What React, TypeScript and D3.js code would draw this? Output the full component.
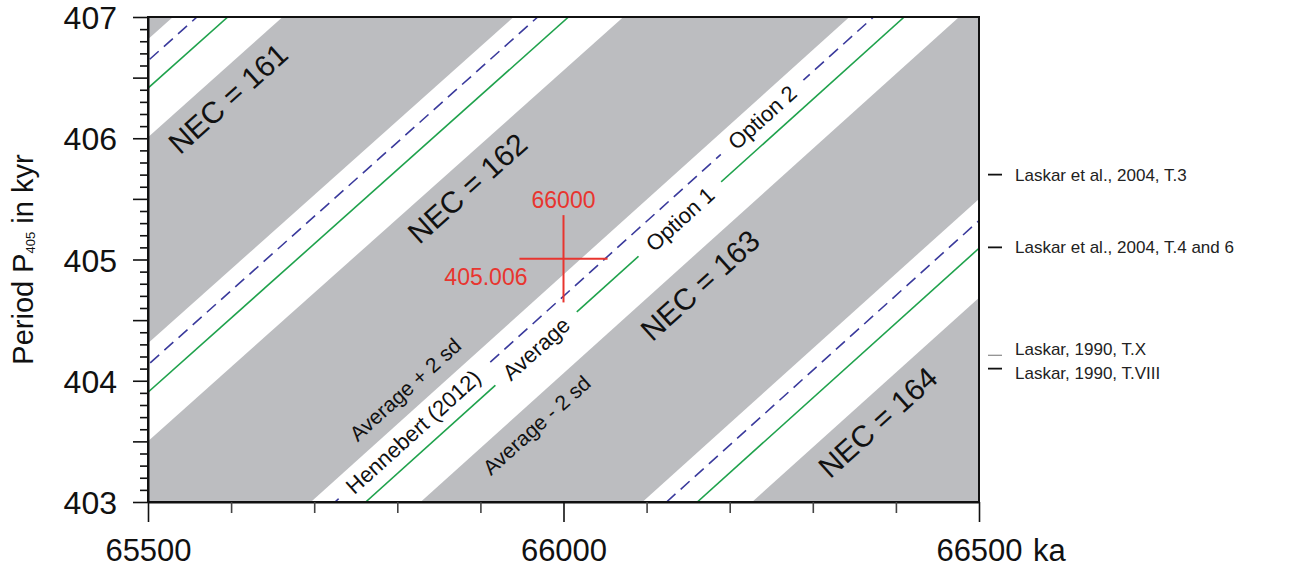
import React, { useEffect, useRef } from 'react';
import * as d3 from 'd3';

// number of eccentricity cycles written in the grey zones
const necValues = [161, 162, 163, 164];
const necLabelAge = [65596, 65884, 66164, 66378];
const necLabelPeriod = [406.33, 405.59, 404.79, 403.66];

// age (ka) where each line crosses P = 403 kyr and P = 407 kyr, one entry per white band
const greenAt403 = [64942, 65352, 65762, 66161];
const greenAt407 = [65596, 66006, 66410, 66809];
const blueAt403 = [64905, 65315, 65725, 66124];
const blueAt407 = [65559, 65969, 66373, 66772];
const upperAt403 = [64876, 65286, 65696, 66095];
const upperAt407 = [65530, 65940, 66344, 66743];
const lowerAt403 = [65008, 65418, 65828, 66227];
const lowerAt407 = [65662, 66072, 66476, 66875];

// labels written along the lines of the middle band
const lineLabels = ['Hennebert (2012)', 'Average', 'Option 1', 'Option 2'];
const lineLabelLine = ['blue', 'green', 'green', 'blue'];
const lineLabelAge = [65819, 65967, 66140, 66239];

// labels next to the band edges
const edgeLabels = ['Average + 2 sd', 'Average - 2 sd'];
const edgeLabelLine = ['upper', 'lower'];
const edgeLabelAge = [65826, 65951];

// reference periods marked on the right
const laskarPeriods = [405.7, 405.1, 404.21, 404.1];
const laskarLabels = [
  'Laskar et al., 2004, T.3',
  'Laskar et al., 2004, T.4 and 6',
  'Laskar, 1990, T.X',
  'Laskar, 1990, T.VIII',
];

const xMajorTicks = [65500, 66000, 66500];
const crossAge = 66000;
const crossPeriod = 405.006;

const W = 1291;
const H = 568;
const FONT = '"Liberation Sans", Arial, Helvetica, sans-serif';

const App = () => {
  const svgRef = useRef<SVGSVGElement>(null);

  useEffect(() => {
    const svg = d3.select(svgRef.current);
    svg.selectAll('*').remove();

    const x = d3.scaleLinear().domain([65500, 66500]).range([148, 979]);
    const y = d3.scaleLinear().domain([403, 407]).range([502, 17]);
    const [x0, x1] = x.range();
    const [y1, y0] = y.range();

    const lines: Record<string, [number[], number[]]> = {
      green: [greenAt403, greenAt407],
      blue: [blueAt403, blueAt407],
      upper: [upperAt403, upperAt407],
      lower: [lowerAt403, lowerAt407],
    };
    const periodOn = (a403: number, a407: number, age: number) =>
      403 + (4 * (age - a403)) / (a407 - a403);
    const angleOf = (a403: number, a407: number) =>
      (Math.atan2(y(407) - y(403), x(a407) - x(a403)) * 180) / Math.PI;

    svg.append('defs').append('clipPath').attr('id', 'plot-clip')
      .append('rect')
      .attr('x', x0).attr('y', y0)
      .attr('width', x1 - x0).attr('height', y1 - y0);

    const plot = svg.append('g').attr('clip-path', 'url(#plot-clip)');

    // grey background
    plot.append('rect')
      .attr('x', x0).attr('y', y0)
      .attr('width', x1 - x0).attr('height', y1 - y0)
      .attr('fill', '#bcbdc0');

    const bands = d3.range(greenAt403.length);

    // white bands (average +/- 2 sd)
    plot.selectAll('.band')
      .data(bands)
      .join('path')
      .attr('class', 'band')
      .attr('fill', '#fff')
      .attr('d', (i) =>
        d3.line()([
          [x(upperAt403[i]), y(403)],
          [x(upperAt407[i]), y(407)],
          [x(lowerAt407[i]), y(407)],
          [x(lowerAt403[i]), y(403)],
        ]) + 'Z');

    // Hennebert (2012) dashed line
    plot.selectAll('.blue')
      .data(bands)
      .join('line')
      .attr('x1', (i) => x(blueAt403[i])).attr('y1', y(403))
      .attr('x2', (i) => x(blueAt407[i])).attr('y2', y(407))
      .attr('stroke', '#3a3a9c')
      .attr('stroke-width', 1.6)
      .attr('stroke-dasharray', '12,7');

    // average line
    plot.selectAll('.green')
      .data(bands)
      .join('line')
      .attr('x1', (i) => x(greenAt403[i])).attr('y1', y(403))
      .attr('x2', (i) => x(greenAt407[i])).attr('y2', y(407))
      .attr('stroke', '#1fa24c')
      .attr('stroke-width', 1.6);

    // labels sitting on the lines of the middle band (white gap behind them)
    const mid = 2;
    lineLabels.forEach((label, k) => {
      const [a403, a407] = lines[lineLabelLine[k]];
      const age = lineLabelAge[k];
      const p = periodOn(a403[mid], a407[mid], age);
      const g = plot.append('g')
        .attr('transform', `translate(${x(age)},${y(p)}) rotate(${angleOf(a403[mid], a407[mid])})`);
      const t = g.append('text')
        .attr('text-anchor', 'middle')
        .attr('dy', '0.36em')
        .style('font-family', FONT)
        .style('font-size', '22px')
        .attr('fill', '#111')
        .text(label);
      const len = (t.node() as SVGTextElement).getComputedTextLength();
      g.insert('rect', 'text')
        .attr('x', -len / 2 - 14).attr('y', -9)
        .attr('width', len + 28).attr('height', 18)
        .attr('fill', '#fff');
    });

    // labels beside the band edges
    edgeLabels.forEach((label, k) => {
      const [a403, a407] = lines[edgeLabelLine[k]];
      const age = edgeLabelAge[k];
      const p = periodOn(a403[mid], a407[mid], age);
      plot.append('text')
        .attr('transform', `translate(${x(age)},${y(p)}) rotate(${angleOf(a403[mid], a407[mid])})`)
        .attr('text-anchor', 'middle')
        .attr('y', edgeLabelLine[k] === 'upper' ? -13 : 28)
        .style('font-family', FONT)
        .style('font-size', '21px')
        .attr('fill', '#111')
        .text(label);
    });

    // NEC labels
    plot.selectAll('.nec')
      .data(necValues)
      .join('text')
      .attr('class', 'nec')
      .attr('transform', (_, i) =>
        `translate(${x(necLabelAge[i])},${y(necLabelPeriod[i])}) rotate(${angleOf(greenAt403[i], greenAt407[i])})`)
      .attr('text-anchor', 'middle')
      .attr('dy', '0.36em')
      .style('font-family', FONT)
      .style('font-size', '30px')
      .attr('fill', '#111')
      .text((d) => `NEC = ${d}`);

    // red cross: 66000 ka, 405.006 kyr
    const red = '#e8352f';
    const cross = svg.append('g');
    cross.append('line')
      .attr('x1', x(crossAge - 53)).attr('x2', x(crossAge + 53))
      .attr('y1', y(crossPeriod)).attr('y2', y(crossPeriod))
      .attr('stroke', red).attr('stroke-width', 2);
    cross.append('line')
      .attr('x1', x(crossAge)).attr('x2', x(crossAge))
      .attr('y1', y(crossPeriod + 0.36)).attr('y2', y(crossPeriod - 0.36))
      .attr('stroke', red).attr('stroke-width', 2);
    cross.append('text')
      .attr('x', x(crossAge)).attr('y', y(crossPeriod + 0.36) - 7)
      .attr('text-anchor', 'middle')
      .style('font-family', FONT).style('font-size', '23px')
      .attr('fill', red)
      .text(d3.format('d')(crossAge));
    cross.append('text')
      .attr('x', x(crossAge) - 36).attr('y', y(crossPeriod) + 26)
      .attr('text-anchor', 'end')
      .style('font-family', FONT).style('font-size', '23px')
      .attr('fill', red)
      .text(d3.format('.3f')(crossPeriod));

    // frame
    svg.append('rect')
      .attr('x', x0).attr('y', y0)
      .attr('width', x1 - x0).attr('height', y1 - y0)
      .attr('fill', 'none')
      .attr('stroke', '#111')
      .attr('stroke-width', 2);

    // y axis
    const yTicks = d3.range(4030, 4071).map((v) => v / 10);
    const isInt = (d: number) => Math.abs(d - Math.round(d)) < 1e-6;
    const isHalf = (d: number) => Math.abs(d * 2 - Math.round(d * 2)) < 1e-6;
    const yAxis = svg.append('g')
      .attr('transform', `translate(${x0},0)`)
      .call(d3.axisLeft(y).tickValues(yTicks).tickSizeOuter(0)
        .tickFormat((d) => (isInt(+d) ? d3.format('d')(+d) : '')));
    yAxis.select('.domain').attr('stroke', '#111').attr('stroke-width', 2);
    yAxis.selectAll<SVGLineElement, number>('.tick line')
      .attr('x2', (d) => (isHalf(d) ? -15 : -8))
      .attr('stroke', '#111')
      .attr('stroke-width', 1.6);
    yAxis.selectAll('.tick text')
      .attr('x', -31)
      .attr('dy', '0.36em')
      .style('font-family', FONT)
      .style('font-size', '32px')
      .attr('fill', '#111');

    // x axis
    const xTicks = d3.range(655, 666).map((v) => v * 100);
    const xAxis = svg.append('g')
      .attr('transform', `translate(0,${y1})`)
      .call(d3.axisBottom(x).tickValues(xTicks).tickSizeOuter(0)
        .tickFormat((d) => (xMajorTicks.includes(+d) ? d3.format('d')(+d) : '')));
    xAxis.select('.domain').attr('stroke', '#111').attr('stroke-width', 2);
    xAxis.selectAll<SVGLineElement, number>('.tick line')
      .attr('y2', (d) => (xMajorTicks.includes(d) ? 20 : 11))
      .attr('stroke', (d) => (xMajorTicks.includes(d) ? '#111' : '#444'))
      .attr('stroke-width', 1.6);
    xAxis.selectAll('.tick text')
      .attr('y', 59)
      .attr('dy', 0)
      .style('font-family', FONT)
      .style('font-size', '31px')
      .attr('fill', '#111');
    svg.append('text')
      .attr('x', x(66500) + 54).attr('y', y1 + 59)
      .style('font-family', FONT)
      .style('font-size', '31px')
      .attr('fill', '#111')
      .text('ka');

    // y axis title
    const title = svg.append('text')
      .attr('transform', `translate(33,${(y0 + y1) / 2}) rotate(-90)`)
      .attr('text-anchor', 'middle')
      .style('font-family', FONT)
      .style('font-size', '29px')
      .attr('fill', '#111');
    title.append('tspan').text('Period P');
    title.append('tspan').style('font-size', '13px').attr('dy', 2).text('405');
    title.append('tspan').attr('dy', -2).text(' in kyr');

    // Laskar reference periods
    const nudge = [0, 0, -6, 4];
    const ref = svg.append('g');
    ref.selectAll('line')
      .data(laskarPeriods)
      .join('line')
      .attr('x1', x1 + 9).attr('x2', x1 + 23)
      .attr('y1', (d) => y(d)).attr('y2', (d) => y(d))
      .attr('stroke', (_, i) => (i === 2 ? '#888' : '#111'))
      .attr('stroke-width', (_, i) => (i === 2 ? 1.2 : 1.8));
    ref.selectAll('text')
      .data(laskarPeriods)
      .join('text')
      .attr('x', x1 + 36)
      .attr('y', (d, i) => y(d) + nudge[i])
      .attr('dy', '0.35em')
      .style('font-family', FONT)
      .style('font-size', '17px')
      .attr('fill', '#222')
      .text((_, i) => laskarLabels[i]);
  }, []);

  return (
    <div style={{ position: 'absolute', left: 0, top: 0, width: W, height: H, background: '#fff' }}>
      <svg ref={svgRef} width={W} height={H} style={{ display: 'block' }} />
    </div>
  );
};

export default App;
